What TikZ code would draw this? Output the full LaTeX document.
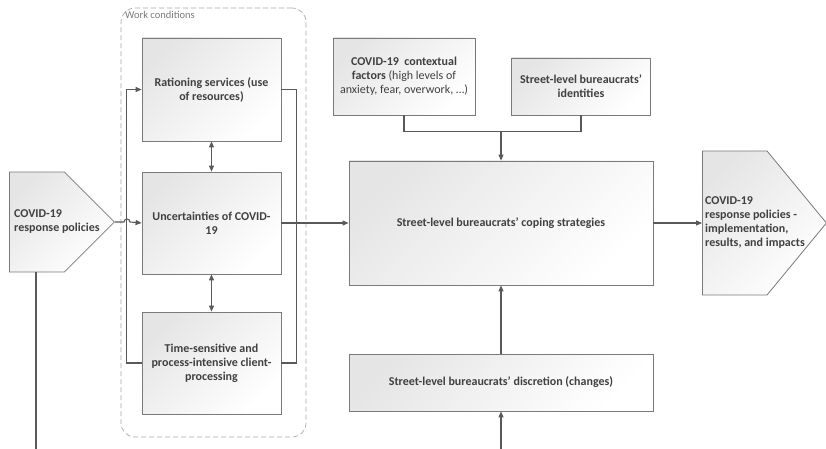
\documentclass[tikz,border=0pt]{standalone}
\usepackage{fontspec}
\setmainfont{Carlito}
\usepackage{xcolor}
\usetikzlibrary{arrows.meta,positioning,shapes.symbols}
\definecolor{boxline}{HTML}{7A7A7A}
\definecolor{conn}{HTML}{595959}
\definecolor{txt}{HTML}{404040}
\tikzset{
  box/.style={draw=boxline,line width=0.8pt,top color=gray!20,bottom color=white,shading angle=45,
    inner sep=2pt,align=center,text=txt,font=\fontsize{12}{14}\selectfont\bfseries},
  signalbox/.style={box,shape=signal,signal to=east,signal pointer angle=90},
  plaintext/.style={inner sep=0pt,align=left,text=txt,font=\fontsize{12}{14}\selectfont\bfseries},
  workbox/.style={draw=gray!70,dashed,dash pattern=on 5pt off 3pt,line width=0.7pt,rounded corners=14pt},
  worklabel/.style={inner sep=1pt,text=gray!95!black,font=\fontsize{10.5}{12}\selectfont},
  link/.style={draw=conn,line width=1.1pt},
}

\begin{document}
\begin{tikzpicture}[x=1pt,y=-1pt,>={Triangle[length=6pt,width=5pt]}]
  \useasboundingbox (0,0) rectangle (826,449);
  \node[workbox,minimum width=185,minimum height=429] (work) at (213.5,222.5) {};
  \node[worklabel,anchor=north west] (worktxt) at (124,10) {Work conditions};
  \node[box,minimum width=139,minimum height=103] (ration) at (211.5,89.5) {Rationing services (use\\of resources)};
  \node[box,minimum width=139,minimum height=102] (unc) at (211.5,223) {Uncertainties of COVID-\\19};
  \node[box,minimum width=139,minimum height=102] (timep) at (211.5,363) {Time-sensitive and\\process-intensive client-\\processing};
  \node[signalbox,anchor=west,minimum width=105,minimum height=100] (pol) at (9,222) {};
  \node[plaintext,anchor=west] (poltxt) at (14,222) {COVID-19\\response policies};
  \node[box,minimum width=142,minimum height=77] (ctx) at (404,76.5)
    {COVID-19~ contextual\\factors {\mdseries(high levels of}\\{\mdseries anxiety, fear, overwork, \dots)}};
  \node[box,minimum width=139,minimum height=57] (ident) at (581,86.5) {Street-level bureaucrats’\\identities};
  \node[box,minimum width=304,minimum height=124] (cope) at (501,223) {Street-level bureaucrats’ coping strategies};
  \node[box,minimum width=304,minimum height=57] (disc) at (501,382.5) {Street-level bureaucrats’ discretion (changes)};
  \node[signalbox,anchor=west,signal pointer angle=101,minimum width=124,minimum height=144] (out) at (702,223) {};
  \node[plaintext,anchor=west] (outtxt) at (705,223) {COVID-19\\response policies -\\implementation,\\results, and impacts};
  \coordinate (bl) at (36,449);
  \coordinate (bd) at (501,449);
  \path (ctx.south) ++(0,16) coordinate (ctxjoin);
  \draw[link] (bl |- pol.south) -- (bl);
  \draw[link,->] (pol.east) -- (124,222) arc[start angle=180,end angle=360,radius=3] -- (unc.west);
  \draw[link,->] (timep.west) -- ++(-15,0) |- (ration.west);
  \draw[link] (ration.east) -- ++(15,0) |- (timep.east);
  \foreach \a/\b in {ration/unc,unc/timep} \draw[link,<->] (\a) -- (\b);
  \draw[link,->] (unc.east) -- (cope.west);
  \draw[link] (ctx.south) -- (ctxjoin) -| (ident.south);
  \draw[link,->] (ctxjoin -| cope.north) -- (cope.north);
  \draw[link,->] (cope.east) -- (out.west);
  \draw[link,->] (disc) -- (cope);
  \draw[link,->] (bd) -- (disc.south);
\end{tikzpicture}
\end{document}
